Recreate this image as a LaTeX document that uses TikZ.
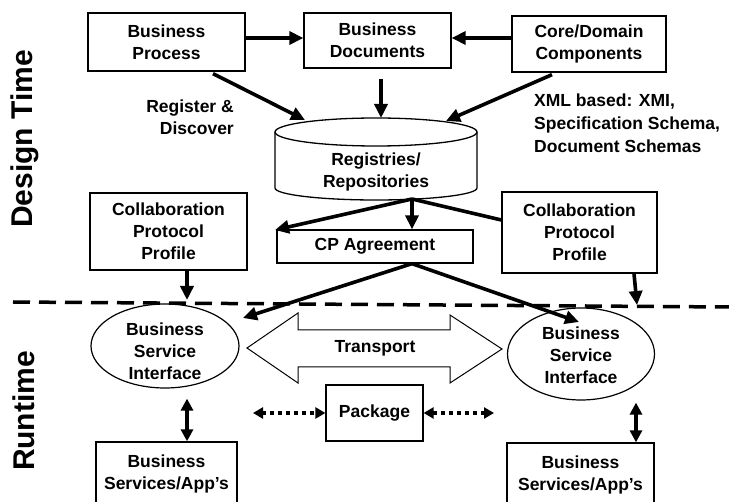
\documentclass[tikz,border=0pt]{standalone}
\usepackage{fontspec}
\setmainfont{Liberation Sans}
\usetikzlibrary{arrows.meta,shapes.geometric}
\begin{document}
\begin{tikzpicture}[x=1pt,y=-1pt,
  font=\bfseries\fontsize{17.5}{22}\selectfont,
  box/.style={draw,line width=1.3pt,rectangle,align=center,inner sep=0pt},
  oval/.style={draw,line width=1.2pt,ellipse,inner sep=0pt},
  plain/.style={align=center,inner sep=0pt},
  side/.style={rotate=90,inner sep=0pt,font=\bfseries\fontsize{30}{36}\selectfont},
  thk/.style={line width=3.6pt,-{Triangle[length=14pt,width=13pt]}},
  thkline/.style={line width=3.6pt},
  dbl/.style={line width=3.6pt,{Triangle[length=12pt,width=12pt]}-{Triangle[length=12pt,width=12pt]}},
  dotarr/.style={line width=3.6pt,dash pattern=on 3.6pt off 4.4pt,{Triangle[length=10pt,width=11pt]}-{Triangle[length=10pt,width=11pt]}},
]
\useasboundingbox (0,0) rectangle (729,502);

% side labels
\node[side] (dt) at (25,139) {Design Time};
\node[side] (rt) at (24,411) {Runtime};

% top boxes
\node[box,minimum width=157pt,minimum height=58pt] (bp) at (166.5,42) {Business\\Process};
\node[box,minimum width=147pt,minimum height=55pt] (bd) at (377.5,40.5) {Business\\Documents};
\node[box,minimum width=154pt,minimum height=56pt] (cd) at (589,44) {Core/Domain\\Components};

\draw[thk] ([yshift=4pt]bp.east) -- ([yshift=2.5pt]bd.west);
\draw[thk] ([yshift=6pt]cd.west) -- ([yshift=2.5pt]bd.east);

% registry cylinder
\draw[line width=1.3pt] (275,132) -- (275,188) arc[start angle=180,end angle=360,x radius=101pt,y radius=12pt] -- (477,132);
\draw[line width=1.3pt] (376,132) ellipse[x radius=101pt,y radius=14pt];
\node[plain] (reg) at (376,172) {Registries/\\Repositories};

\coordinate (regbp) at (305,120);
\coordinate (regbd) at (381,118);
\coordinate (regcd) at (446,121);
\coordinate (regbot) at (412,199);
\coordinate (reglt) at (275,230);

\draw[thk] ([shift={(46.5pt,-2pt)}]bp.south) -- (regbp);
\draw[thk] ([shift={(3.5pt,-10pt)}]bd.south) -- (regbd);
\draw[thk] ([shift={(-37pt,-2pt)}]cd.south) -- (regcd);

\node[plain,anchor=east,align=right] (rd) at (234,117.5) {Register \&\\Discover};
\node[plain,anchor=west,align=left,font=\bfseries\fontsize{17.5}{23}\selectfont] (xml) at (534,123.5) {XML based: XMI,\\Specification Schema,\\Document Schemas};

% collaboration profiles and agreement
\node[box,minimum width=157pt,minimum height=77pt] (lcpp) at (168.5,231.5) {Collaboration\\Protocol\\Profile};
\node[box,minimum width=155pt,minimum height=81pt] (rcpp) at (579.5,232.5) {Collaboration\\Protocol\\Profile};
\node[box,minimum width=196pt,minimum height=33pt] (cpa) at (375,246.5) {CP Agreement};

\draw[thk] (regbot) -- ([xshift=37pt]cpa.north);
\draw[thk] (regbot) -- (reglt);
\draw[thkline] (regbot) -- ([yshift=12.5pt]rcpp.west);

% dashed separator
\coordinate (dashL) at (13,302);
\coordinate (dashR) at (729,307);
\draw[line width=3.5pt,dash pattern=on 17pt off 9pt] (dashL) -- (dashR);

% business service interfaces
\node[oval,minimum width=148pt,minimum height=84pt] (lbsi) at (165,346) {};
\node[oval,minimum width=147pt,minimum height=92pt] (rbsi) at (581,354) {};
\node[plain] (lbsit) at (165,351) {Business\\Service\\Interface};
\node[plain] (rbsit) at (581,355) {Business\\Service\\Interface};

\coordinate (ltip) at (243,318);
\coordinate (rtip) at (579,322);
\draw[thk] ([xshift=37pt]cpa.south) -- (ltip);
\draw[thk] ([xshift=37pt]cpa.south) -- (rtip);

\coordinate (lcppTip) at (187,300);
\coordinate (rcppTip) at (637,305);
\draw[thk] ([xshift=18.5pt]lcpp.south) -- (lcppTip);
\draw[thk] ([xshift=54.5pt]rcpp.south) -- (rcppTip);

% transport
\draw[line width=1pt] (247,348) -- (298,313) -- (298,330) -- (450,330) -- (450,315) -- (502,349) -- (450,383) -- (450,367) -- (298,367) -- (298,383) -- cycle;
\node[plain] (tr) at (375,348) {Transport};

% package
\node[box,minimum width=97pt,minimum height=56pt] (pkg) at (374.5,413) {Package};
\coordinate (dl) at (253,413);
\coordinate (dr) at (494,413);
\draw[dotarr] (dl) -- (pkg.west);
\draw[dotarr] (pkg.east) -- (dr);

% business services
\node[box,minimum width=141pt,minimum height=64pt] (lbss) at (166.5,474) {Business\\Services/App's};
\node[box,minimum width=147pt,minimum height=64pt] (rbss) at (580.5,475) {Business\\Services/App's};

\draw[dbl] ([shift={(22pt,-10pt)}]lbsi.south) -- ([xshift=20.5pt]lbss.north);
\draw[dbl] ([shift={(55pt,-2pt)}]rbsi.south) -- ([xshift=55.5pt]rbss.north);

\end{tikzpicture}
\end{document}
